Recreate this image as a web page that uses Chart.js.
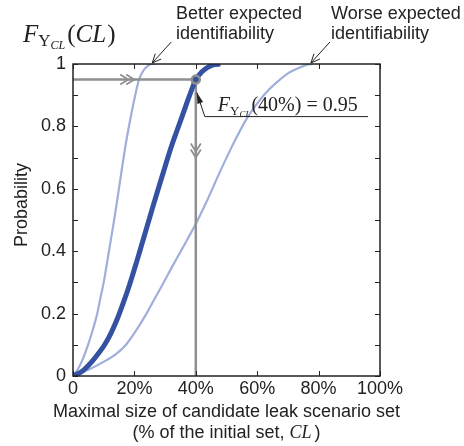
<!DOCTYPE html>
<html>
<head>
<meta charset="utf-8">
<script src="https://cdn.jsdelivr.net/npm/chart.js@4"></script>
<style>
  body { margin: 0; background: #fff; }
</style>
</head>
<body>
<canvas id="cdf-chart" width="464" height="446"></canvas>
<script>
// x: maximal size of candidate set (% of initial set), y: cumulative probability
var betterX = [0, 1.5, 3, 4.9, 6.5, 7.9, 8.8, 10, 11.7, 13.4, 14.8, 17.3, 19, 20.5, 21.5, 23, 24.5, 25.8, 27];
var betterY = [0, 0.02, 0.05, 0.1, 0.15, 0.2, 0.244, 0.3, 0.4, 0.5, 0.59, 0.75, 0.84, 0.91, 0.95, 0.98, 0.995, 1, 1];

var midX = [0, 3, 6.5, 8.5, 10.3, 12.5, 14.7, 16.4, 18.5, 20.7, 22.5, 24, 26, 28.3, 30.3, 32.1, 34, 36, 38, 40, 42, 44, 46, 48];
var midY = [0, 0.015, 0.05, 0.075, 0.1, 0.14, 0.19, 0.235, 0.295, 0.365, 0.425, 0.475, 0.542, 0.617, 0.681, 0.737, 0.79, 0.845, 0.9, 0.95, 0.975, 0.99, 0.998, 1];

var worseX = [0, 5, 10.8, 14, 17.4, 20.5, 23.7, 26, 29, 32, 35.4, 39.7, 43.8, 47.9, 52, 56.6, 60.9, 64, 67.4, 70, 73, 76, 78];
var worseY = [0, 0.02, 0.05, 0.07, 0.102, 0.145, 0.196, 0.237, 0.29, 0.345, 0.405, 0.482, 0.565, 0.655, 0.74, 0.825, 0.885, 0.92, 0.95, 0.97, 0.985, 0.997, 1];

// reading of the highlighted point
var markX = 40, markY = 0.95;

var xTicks = [0, 20, 40, 60, 80, 100];
var yTicks = [0, 0.2, 0.4, 0.6, 0.8, 1];
var yTickMarks = [0, 0.1, 0.2, 0.3, 0.4, 0.5, 0.6, 0.7, 0.8, 0.9, 1];

var darkBlue = '#3451a2';
var lightBlue = '#9fafdb';
var grey = '#8f8f8f';
var ink = '#222';
var sans = '"Liberation Sans", Arial, sans-serif';
var serif = '"Liberation Serif", "DejaVu Serif", serif';

function pts(xs, ys) {
    return xs.map(function (x, i) { return { x: x, y: ys[i] }; });
}

function runs(c, x, y, list) {
    list.forEach(function (r) {
        c.font = (r.it ? 'italic ' : '') + r.s + 'px ' + serif;
        c.fillText(r.t, x, y + (r.dy || 0));
        x += c.measureText(r.t).width + (r.gap || 0);
    });
}

function chevron(c, x, y, dx, dy, w) {
    // open arrow head with tip at x,y pointing along (dx,dy)
    c.beginPath();
    c.moveTo(x - dx * 8 - dy * w, y - dy * 8 - dx * w);
    c.lineTo(x, y);
    c.lineTo(x - dx * 8 + dy * w, y - dy * 8 + dx * w);
    c.stroke();
}

var decor = {
    id: 'decor',
    afterDraw: function (chart) {
        var c = chart.ctx, a = chart.chartArea;
        var sx = chart.scales.x, sy = chart.scales.y;
        c.save();

        // axes box and inward ticks
        c.strokeStyle = ink;
        c.lineWidth = 1.5;
        c.strokeRect(a.left, a.top, a.right - a.left, a.bottom - a.top);
        c.lineWidth = 1;
        c.beginPath();
        xTicks.forEach(function (v) {
            var px = Math.round(sx.getPixelForValue(v)) + 0.5;
            c.moveTo(px, a.bottom); c.lineTo(px, a.bottom - 5);
            c.moveTo(px, a.top); c.lineTo(px, a.top + 5);
        });
        yTickMarks.forEach(function (v) {
            var py = Math.round(sy.getPixelForValue(v)) + 0.5;
            c.moveTo(a.left, py); c.lineTo(a.left + 5, py);
            c.moveTo(a.right, py); c.lineTo(a.right - 5, py);
        });
        c.stroke();

        // double chevrons on the grey reading lines
        var mx = sx.getPixelForValue(markX), my = sy.getPixelForValue(markY);
        c.strokeStyle = grey;
        c.lineWidth = 1.8;
        var hx = sx.getPixelForValue(18);
        chevron(c, hx, my, 1, 0, 5);
        chevron(c, hx + 6, my, 1, 0, 5);
        var vy = sy.getPixelForValue(0.70);
        chevron(c, mx, vy, 0, 1, 5);
        chevron(c, mx, vy - 6, 0, 1, 5);

        // callout for the highlighted point
        c.strokeStyle = ink;
        c.fillStyle = ink;
        c.lineWidth = 1;
        var tipX = mx + 1, tipY = my + 13;
        c.beginPath();
        c.moveTo(tipX, tipY);
        c.lineTo(mx + 9, my + 37);
        c.lineTo(a.right - 12, my + 37);
        c.stroke();
        var ang = Math.atan2(tipY - (my + 37), tipX - (mx + 9));
        c.beginPath();
        c.moveTo(tipX, tipY);
        c.lineTo(tipX - 11 * Math.cos(ang) + 3 * Math.sin(ang), tipY - 11 * Math.sin(ang) - 3 * Math.cos(ang));
        c.lineTo(tipX - 11 * Math.cos(ang) - 3 * Math.sin(ang), tipY - 11 * Math.sin(ang) + 3 * Math.cos(ang));
        c.closePath();
        c.fill();
        c.textBaseline = 'alphabetic';
        c.textAlign = 'left';
        runs(c, mx + 22, my + 31, [
            { t: 'F', s: 20, it: true },
            { t: 'Υ', s: 13, dy: 4 },
            { t: 'CL', s: 9, it: true, dy: 6, gap: 1 },
            { t: '(40%) = 0.95', s: 20 }
        ]);

        // arrows to the outer curves
        var bx = sx.getPixelForValue(25.8), by = sy.getPixelForValue(1);
        var wx = sx.getPixelForValue(77.5);
        [[bx, by], [wx, by]].forEach(function (p) {
            c.beginPath();
            c.moveTo(p[0] + 19, p[1] - 22);
            c.lineTo(p[0], p[1] - 1);
            c.stroke();
            var g = Math.atan2(21, -19);
            c.beginPath();
            c.moveTo(p[0] - 9 * Math.cos(g) + 4 * Math.sin(g), p[1] - 1 - 9 * Math.sin(g) - 4 * Math.cos(g));
            c.lineTo(p[0], p[1] - 1);
            c.lineTo(p[0] - 9 * Math.cos(g) - 4 * Math.sin(g), p[1] - 1 - 9 * Math.sin(g) + 4 * Math.cos(g));
            c.stroke();
        });

        // outer texts
        c.font = '18px ' + sans;
        c.fillText('Better expected', 176, 19);
        c.fillText('identifiability', 176, 39);
        c.fillText('Worse expected', 331, 19);
        c.fillText('identifiability', 331, 39);

        runs(c, 23, 42, [
            { t: 'F', s: 25, it: true },
            { t: 'Υ', s: 17, dy: 4 },
            { t: 'CL', s: 12, it: true, dy: 7, gap: 2 },
            { t: '(', s: 25 },
            { t: 'CL', s: 25, it: true, gap: 1 },
            { t: ')', s: 25 }
        ]);

        var cx = (a.left + a.right) / 2;
        c.textAlign = 'center';
        c.font = '18px ' + sans;
        c.fillText('Maximal size of candidate leak scenario set', cx, a.bottom + 41);
        // second line: mixed upright and italic text
        var p1 = '(% of the initial set, ', p2 = 'CL', p3 = ')';
        c.font = '18px ' + sans;
        var w1 = c.measureText(p1).width, w3 = c.measureText(p3).width;
        c.font = 'italic 18px ' + serif;
        var w2 = c.measureText(p2).width + 3;
        var lx = cx - (w1 + w2 + w3) / 2;
        c.textAlign = 'left';
        c.font = '18px ' + sans;
        c.fillText(p1, lx, a.bottom + 62);
        c.font = 'italic 18px ' + serif;
        c.fillText(p2, lx + w1, a.bottom + 62);
        c.font = '18px ' + sans;
        c.fillText(p3, lx + w1 + w2, a.bottom + 62);

        c.translate(22, (a.top + a.bottom) / 2 - 15);
        c.rotate(-Math.PI / 2);
        c.textAlign = 'center';
        c.textBaseline = 'middle';
        c.fillText('Probability', 0, 0);
        c.restore();
    }
};

var ctx = document.getElementById('cdf-chart').getContext('2d');
var cdfChart = new Chart(ctx, {
    type: 'line',
    data: {
        datasets: [
            {
                label: 'reading',
                data: [{ x: markX, y: markY }],
                showLine: false,
                pointRadius: 4,
                pointBorderWidth: 2.5,
                pointBackgroundColor: darkBlue,
                pointBorderColor: grey,
                order: 0
            },
            {
                label: 'expected',
                data: pts(midX, midY),
                borderColor: darkBlue,
                borderWidth: 5,
                pointRadius: 0,
                cubicInterpolationMode: 'monotone',
                order: 1
            },
            {
                label: 'guide',
                data: [{ x: 0, y: markY }, { x: markX, y: markY }, { x: markX, y: 0 }],
                borderColor: grey,
                borderWidth: 2.5,
                pointRadius: 0,
                tension: 0,
                order: 2
            },
            {
                label: 'better',
                data: pts(betterX, betterY),
                borderColor: lightBlue,
                borderWidth: 2.2,
                pointRadius: 0,
                cubicInterpolationMode: 'monotone',
                order: 3
            },
            {
                label: 'worse',
                data: pts(worseX, worseY),
                borderColor: lightBlue,
                borderWidth: 2.2,
                pointRadius: 0,
                cubicInterpolationMode: 'monotone',
                order: 3
            }
        ]
    },
    options: {
        responsive: false,
        animation: false,
        layout: { padding: { left: 0, top: 64, right: 84, bottom: 0 } },
        scales: {
            x: {
                type: 'linear',
                min: 0,
                max: 100,
                afterBuildTicks: function (s) { s.ticks = xTicks.map(function (v) { return { value: v }; }); },
                afterFit: function (s) { s.height = 70; },
                grid: { display: false, drawTicks: false },
                border: { display: false },
                ticks: {
                    padding: 2,
                    color: ink,
                    font: { size: 18, family: sans },
                    maxRotation: 0,
                    callback: function (v) { return v === 0 ? '0' : v + '%'; }
                }
            },
            y: {
                min: 0,
                max: 1,
                afterBuildTicks: function (s) { s.ticks = yTicks.map(function (v) { return { value: v }; }); },
                afterFit: function (s) { s.width = 73; },
                grid: { display: false, drawTicks: false },
                border: { display: false },
                ticks: {
                    padding: 7,
                    color: ink,
                    font: { size: 18, family: sans },
                    callback: function (v) { return String(+v.toFixed(1)); }
                }
            }
        },
        plugins: {
            legend: { display: false },
            tooltip: { enabled: false }
        }
    },
    plugins: [decor]
});
</script>
</body>
</html>
